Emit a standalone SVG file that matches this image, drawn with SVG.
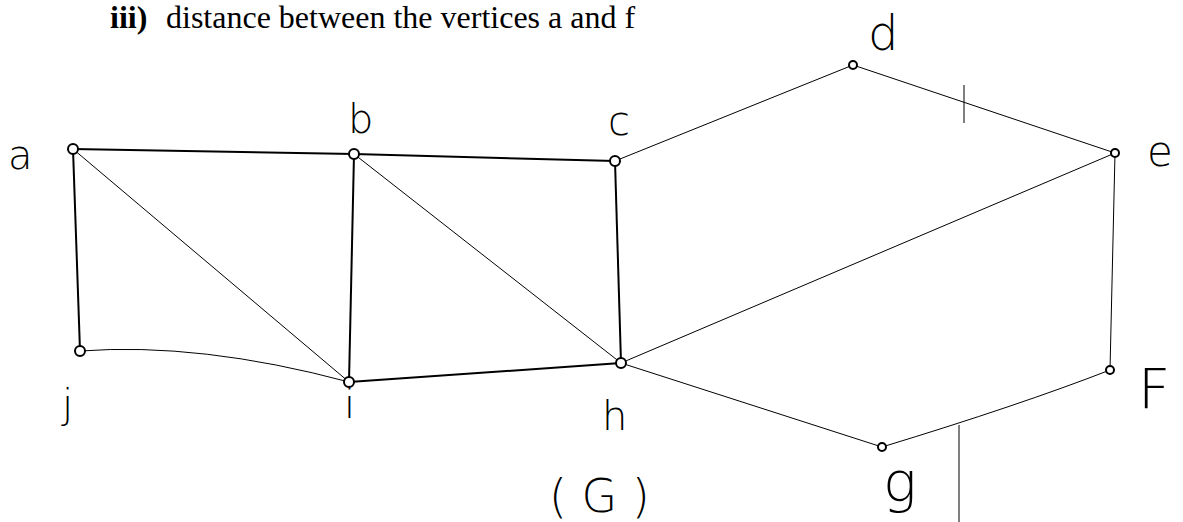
<svg xmlns="http://www.w3.org/2000/svg" width="1183" height="522" viewBox="0 0 1183 522">
<style>
.t{font-family:"Liberation Serif",serif;font-size:32px;fill:#000}
.lbl{font-family:"DejaVu Sans","Liberation Sans",sans-serif;font-weight:200;font-size:40px;fill:#000}
.thick{stroke:#000;stroke-width:2;fill:none}
.thin{stroke:#000;stroke-width:1;fill:none}
.v{fill:#fff;stroke:#000;stroke-width:2}
</style>
<rect width="1183" height="522" fill="#fff"/>
<text class="t" y="28"><tspan x="110" font-weight="bold">iii)</tspan><tspan x="166">distance between the vertices a and f</tspan></text>
<g id="connectors">
<path class="thick" d="M73,149 L354,154"/>
<path class="thick" d="M73,149 L80,351"/>
<path class="thin" d="M73,149 L349,382"/>
<path class="thick" d="M354,154 L615,161"/>
<path class="thick" d="M354,154 L349,382"/>
<path class="thin" d="M354,154 L621,363"/>
<path class="thick" d="M615,161 L621,363"/>
<path class="thin" d="M615,161 L853,65"/>
<path class="thin" d="M853,65 L1115,153"/>
<path class="thin" d="M1115,153 L621,363"/>
<path class="thin" d="M1115,153 L1110,370"/>
<path class="thin" d="M1110,370 Q1020,405 882,447"/>
<path class="thin" d="M882,447 L621,363"/>
<path class="thick" d="M621,363 L349,382"/>
<path class="thin" d="M349,382 Q200,342 80,351"/>
<path class="thin" d="M964,85 L964,123"/>
<path class="thin" d="M959,425 L959,522"/>
</g>
<g id="node-a"><circle class="v" cx="73" cy="149" r="5"/><text class="lbl" x="8" y="169">a</text></g>
<g id="node-b"><circle class="v" cx="354" cy="154" r="5"/><text class="lbl" x="348" y="133">b</text></g>
<g id="node-c"><circle class="v" cx="615" cy="161" r="5"/><text class="lbl" x="608" y="135">c</text></g>
<g id="node-d"><circle class="v" cx="853" cy="65" r="4"/><text class="lbl" x="868" y="50" style="font-size:48px">d</text></g>
<g id="node-e"><circle class="v" cx="1115" cy="153" r="4"/><text class="lbl" x="1147" y="166" style="font-size:42px">e</text></g>
<g id="node-f"><circle class="v" cx="1110" cy="370" r="4"/><text class="lbl" x="1138" y="408" style="font-size:56px">F</text></g>
<g id="node-g"><circle class="v" cx="882" cy="447" r="4"/><text class="lbl" x="883" y="501" style="font-size:56px">g</text></g>
<g id="node-h"><circle class="v" cx="621" cy="363" r="5"/><text class="lbl" x="602" y="430">h</text></g>
<g id="node-i"><circle class="v" cx="349" cy="382" r="5"/><text class="lbl" x="344" y="418">i</text></g>
<g id="node-j"><circle class="v" cx="80" cy="351" r="5"/><text class="lbl" x="62" y="418">j</text></g>
<text class="lbl" x="549" y="512" style="font-size:46px">( G )</text>
</svg>
